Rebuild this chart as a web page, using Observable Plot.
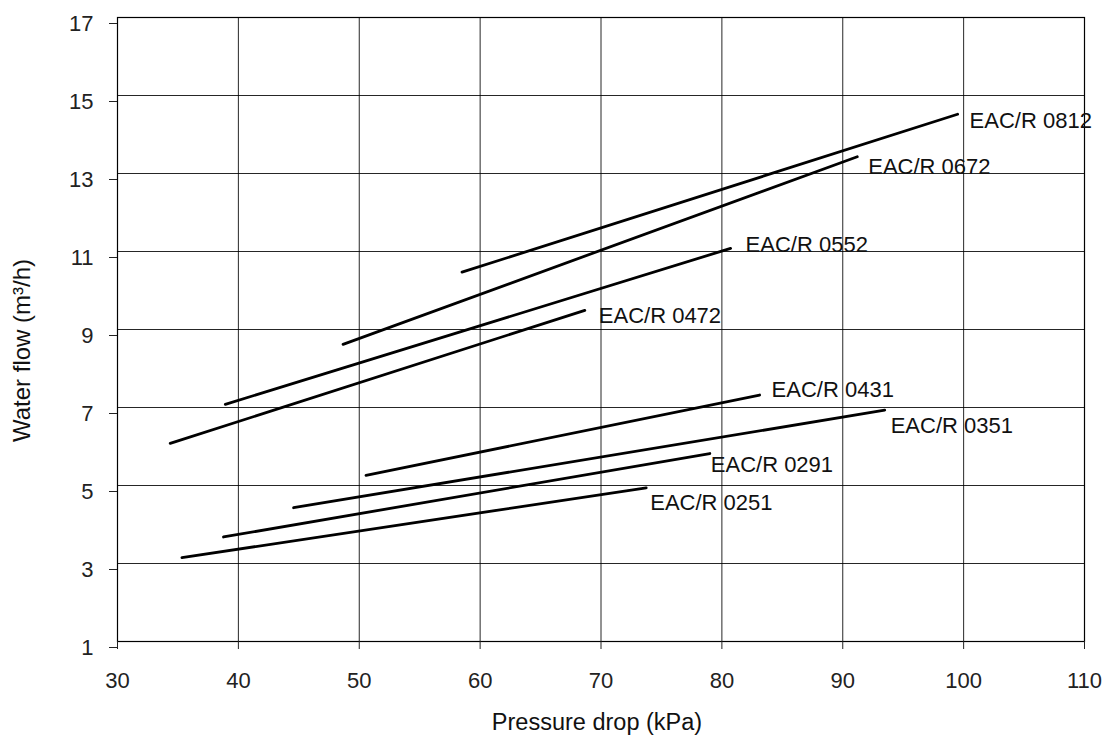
<!DOCTYPE html>
<html><head><meta charset="utf-8">
<script src="https://cdn.jsdelivr.net/npm/d3@7"></script>
<script src="https://cdn.jsdelivr.net/npm/@observablehq/plot@0.6"></script>
<style>
body{margin:0;background:#fff}
svg{display:block}
g[aria-label="series-label"] text{letter-spacing:0.7px}
</style>
</head><body><div id="chart"></div>
<script>
// Data
const models = ["EAC/R 0812","EAC/R 0672","EAC/R 0552","EAC/R 0472","EAC/R 0431","EAC/R 0351","EAC/R 0291","EAC/R 0251"];
const pressureStart = [58.5, 48.66, 38.92, 34.36, 50.56, 44.57, 38.77, 35.33];
const flowStart     = [10.47, 8.62, 7.08, 6.08, 5.26, 4.43, 3.68, 3.15];
const pressureEnd   = [99.5, 91.2, 80.72, 68.66, 83.12, 93.47, 79.0, 73.74];
const flowEnd       = [14.52, 13.43, 11.08, 9.49, 7.32, 6.93, 5.82, 4.94];
const xTicks = [30,40,50,60,70,80,90,100,110];
const yTicks = [1,3,5,7,9,11,13,15,17];

// label placement offsets (px) relative to each line's end
const labelOffsets = [[12,7],[11,10],[15,-3],[14,6],[12,-5],[6,16],[1,11],[4,15]];

const rows = models.flatMap((m,i)=>[
  {model:m, p:pressureStart[i], q:flowStart[i]},
  {model:m, p:pressureEnd[i], q:flowEnd[i]}
]);
const ends = models.map((m,i)=>({model:m, p:pressureEnd[i], q:flowEnd[i]}));

const tickFont = "'Liberation Sans',Arial,sans-serif";
const regular = "'Liberation Sans',Arial,sans-serif";

const labelMarks = ends.map((d,i)=>Plot.text([d],{
  x:"p", y:"q", text:"model", textAnchor:"start", lineAnchor:"middle",
  dx:labelOffsets[i][0], dy:labelOffsets[i][1],
  fontFamily:tickFont, fontSize:22, fill:"#111", ariaLabel:"series-label"
}));

const chart = Plot.plot({
  width:1103, height:736,
  marginLeft:117, marginRight:19, marginTop:17, marginBottom:95,
  style:{fontFamily:tickFont, fontSize:"22px", color:"#222", background:"#fff"},
  x:{domain:[30,110]},
  y:{domain:[1,17]},
  marks:[
    Plot.gridX(xTicks,{stroke:"#000", strokeOpacity:0.85, strokeWidth:1}),
    Plot.gridY(yTicks,{stroke:"#000", strokeOpacity:0.85, strokeWidth:1}),
    Plot.frame({stroke:"#000", strokeWidth:1.2}),
    Plot.axisX(xTicks,{tickSize:8, tickPadding:23, label:null, fontSize:22, fontFamily:tickFont}),
    Plot.axisY(yTicks,{tickSize:8, tickPadding:16, label:null, dy:6, fontSize:22, fontFamily:tickFont}),
    Plot.line(rows,{x:"p", y:"q", z:"model", stroke:"#000", strokeWidth:2.8}),
    ...labelMarks,
    Plot.text(["Pressure drop (kPa)"],{text:d=>d, frameAnchor:"bottom", lineAnchor:"middle", textAnchor:"middle", dx:-4, dy:81, fontFamily:regular, fontSize:23.5, fill:"#111"}),
    Plot.text(["Water flow (m³/h)"],{text:d=>d, frameAnchor:"left", textAnchor:"middle", lineAnchor:"middle", dx:-95, dy:21, rotate:-90, fontFamily:regular, fontSize:24, fill:"#111"})
  ]
});
document.getElementById("chart").appendChild(chart);
</script>
</body></html>
